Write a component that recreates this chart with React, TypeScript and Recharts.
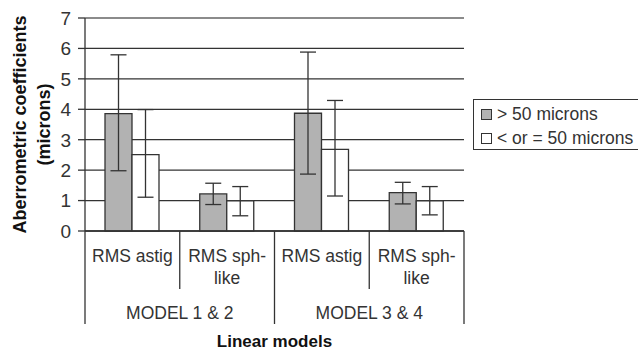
import React from 'react';
import {
  BarChart,
  Bar,
  XAxis,
  YAxis,
  CartesianGrid,
  ErrorBar,
  Legend,
  ReferenceLine,
  Label,
} from 'recharts';

const measures = ['RMS astig', 'RMS sph-like', 'RMS astig', 'RMS sph-like'];
const models = ['MODEL 1 & 2', 'MODEL 1 & 2', 'MODEL 3 & 4', 'MODEL 3 & 4'];
const above50 = [3.86, 1.22, 3.87, 1.26];
// error bars as [minus, plus]
const above50Err = [[1.88, 1.93], [0.35, 0.35], [2.0, 2.01], [0.37, 0.34]];
const upTo50 = [2.51, 0.99, 2.68, 0.99];
const upTo50Err = [[1.4, 1.48], [0.49, 0.47], [1.53, 1.61], [0.46, 0.47]];
const yTicks = [0, 1, 2, 3, 4, 5, 6, 7];
const seriesNames = ['> 50 microns', '< or = 50 microns'];

const data = measures.map((m, i) => ({
  measure: m,
  model: models[i],
  above: above50[i],
  aboveErr: above50Err[i],
  upTo: upTo50[i],
  upToErr: upTo50Err[i],
}));

const W = 638;
const H = 350;
const PLOT_LEFT = 85;
const PLOT_RIGHT = 464;
const BAND = (PLOT_RIGHT - PLOT_LEFT) / measures.length;
const FONT = '"Liberation Sans", Arial, sans-serif';
const DARK = '#333';
const GREY = '#b2b2b2';

const MeasureTick = (props: any) => {
  const { x, y, payload, index } = props;
  const label: string = payload.value;
  const dash = label.indexOf('-');
  const lines = dash >= 0 ? [label.slice(0, dash + 1), label.slice(dash + 1)] : [label];
  const leftLen = index % 2 === 0 ? 93 : 58;
  return (
    <g>
      <line x1={x - BAND / 2} x2={x - BAND / 2} y1={y} y2={y + leftLen} stroke={DARK} strokeWidth={1.3} />
      {index === measures.length - 1 && (
        <line x1={x + BAND / 2} x2={x + BAND / 2} y1={y} y2={y + 93} stroke={DARK} strokeWidth={1.3} />
      )}
      {lines.map((t, i) => (
        <text key={i} x={x} y={y + 31 + i * 22} textAnchor="middle" fontSize={17.5} fontFamily={FONT} fill={DARK}>
          {t}
        </text>
      ))}
    </g>
  );
};

const ModelTick = (props: any) => {
  const { x, y, payload, index } = props;
  if (index % 2 !== 0) return null;
  return (
    <text x={x + BAND / 2} y={y + 30} textAnchor="middle" fontSize={17.5} fontFamily={FONT} fill={DARK}>
      {payload.value}
    </text>
  );
};

const ValueTick = (props: any) => {
  const { x, y, payload } = props;
  return (
    <text x={x} y={y} dy="0.36em" textAnchor="end" fontSize={19} fontFamily={FONT} fill={DARK}>
      {payload.value}
    </text>
  );
};

const YTitle = (props: any) => {
  const { viewBox } = props;
  const cy = viewBox.y + viewBox.height / 2;
  return (
    <g fontFamily={FONT} fontWeight="bold" fontSize={18} fill="#111">
      <text x={26} y={cy} textAnchor="middle" transform={`rotate(-90, 26, ${cy})`}>
        Aberrometric coefficients
      </text>
      <text x={50} y={cy} textAnchor="middle" transform={`rotate(-90, 50, ${cy})`}>
        (microns)
      </text>
    </g>
  );
};

const LegendBox = () => (
  <div
    style={{
      border: `1.3px solid ${DARK}`,
      background: '#fff',
      width: 170,
      height: 51,
      boxSizing: 'border-box',
      paddingLeft: 7,
      paddingTop: 2,
      fontFamily: FONT,
      fontSize: 17.5,
      color: DARK,
    }}
  >
    {seriesNames.map((n, i) => (
      <div key={n} style={{ display: 'flex', alignItems: 'center', height: 24, whiteSpace: 'nowrap' }}>
        <span
          style={{
            display: 'inline-block',
            width: 11,
            height: 11,
            boxSizing: 'border-box',
            border: `1.3px solid ${DARK}`,
            background: i === 0 ? GREY : '#fff',
            marginRight: 5,
          }}
        />
        {n}
      </div>
    ))}
  </div>
);

export default function App() {
  return (
    <div style={{ position: 'absolute', left: 0, top: 0, width: W, height: H, background: '#fff' }}>
      <BarChart
        width={W}
        height={H}
        data={data}
        margin={{ top: 18, right: W - PLOT_RIGHT, left: 0, bottom: 26 }}
        barGap={0}
        barSize={27}
      >
        <CartesianGrid vertical={false} stroke={DARK} strokeWidth={1.3} />
        <XAxis
          dataKey="measure"
          height={58}
          interval={0}
          tickSize={0}
          tickMargin={0}
          tickLine={false}
          axisLine={{ stroke: DARK, strokeWidth: 1.3 }}
          tick={<MeasureTick />}
        />
        <XAxis
          xAxisId="model"
          dataKey="model"
          height={35}
          interval={0}
          tickSize={0}
          tickMargin={0}
          tickLine={false}
          axisLine={false}
          tick={<ModelTick />}
        >
          <Label
            value="Linear models"
            position="bottom"
            offset={11}
            style={{ fontFamily: FONT, fontWeight: 'bold', fontSize: 17, fill: '#111' }}
          />
        </XAxis>
        <YAxis
          width={PLOT_LEFT}
          domain={[0, 7]}
          ticks={yTicks}
          interval={0}
          tickSize={7}
          tickMargin={7}
          axisLine={{ stroke: DARK, strokeWidth: 1.3 }}
          tickLine={{ stroke: DARK, strokeWidth: 1.3 }}
          tick={<ValueTick />}
        >
          <Label content={<YTitle />} />
        </YAxis>
        <YAxis
          yAxisId="r"
          orientation="right"
          width={0}
          domain={[0, 7]}
          tick={false}
          tickLine={false}
          axisLine={{ stroke: '#999', strokeWidth: 1.3 }}
        />
        <ReferenceLine y={7} stroke="#999" strokeWidth={1.3} />
        <Legend
          layout="horizontal"
          verticalAlign="middle"
          align="center"
          content={<LegendBox />}
          wrapperStyle={{ position: 'absolute', left: 473, top: 99, width: 170, height: 51 }}
        />
        <Bar dataKey="above" name={seriesNames[0]} fill={GREY} stroke={DARK} strokeWidth={1.3} isAnimationActive={false}>
          <ErrorBar dataKey="aboveErr" direction="y" width={8} stroke={DARK} strokeWidth={1.3} />
        </Bar>
        <Bar dataKey="upTo" name={seriesNames[1]} fill="#fff" stroke={DARK} strokeWidth={1.3} isAnimationActive={false}>
          <ErrorBar dataKey="upToErr" direction="y" width={8} stroke={DARK} strokeWidth={1.3} />
        </Bar>
      </BarChart>
    </div>
  );
}
